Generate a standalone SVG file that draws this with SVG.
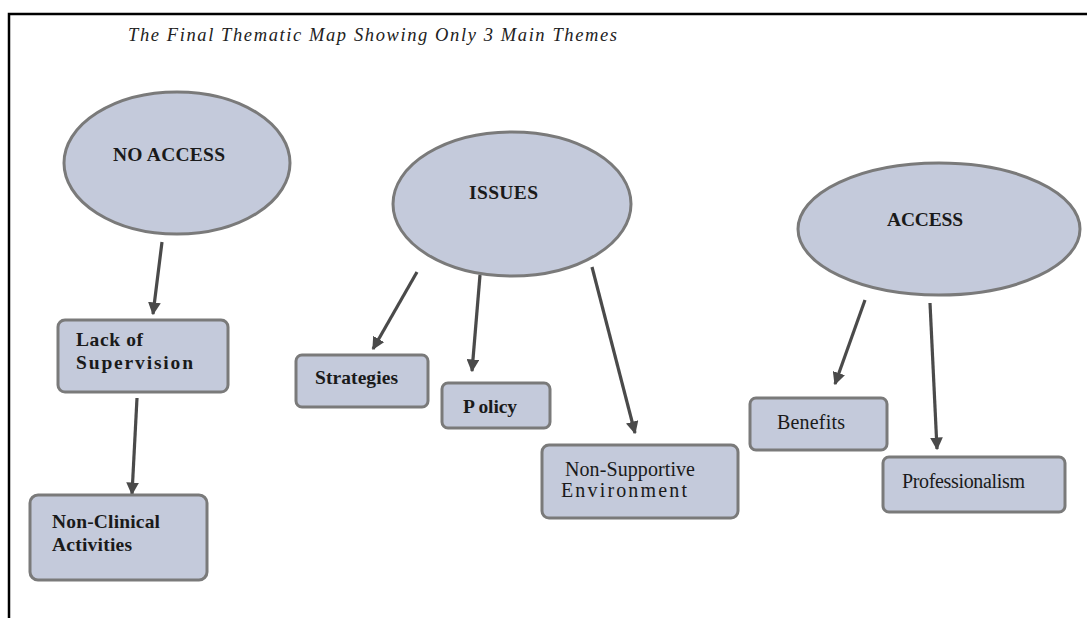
<svg xmlns="http://www.w3.org/2000/svg" width="1087" height="618" viewBox="0 0 1087 618">
<defs>
<marker id="ah" viewBox="0 0 10 10" refX="9" refY="5" markerWidth="4" markerHeight="4" orient="auto" markerUnits="strokeWidth">
<path d="M0,0 L10,5 L0,10 Z" fill="#4a4a4a"/>
</marker>
<style>
.node{fill:#c4cadb;stroke:#7a7a7a;stroke-width:3}
.b{font-family:"Liberation Serif","Times New Roman",serif;font-weight:bold;font-size:19.5px;fill:#1a1a1a}
.r{font-family:"Liberation Serif","Times New Roman",serif;font-size:20px;fill:#1a1a1a}
.title{font-family:"Liberation Serif","Times New Roman",serif;font-style:italic;font-size:18.5px;fill:#222}
.conn line{stroke:#4a4a4a;stroke-width:3.2;marker-end:url(#ah)}
</style>
</defs>
<rect width="1087" height="618" fill="#fff"/>
<path d="M9,618 L9,14 L1087,14" fill="none" stroke="#000" stroke-width="2.5"/>
<text class="title" x="128" y="41" textLength="489" lengthAdjust="spacing">The Final Thematic Map Showing Only 3 Main Themes</text>

<g id="connectors" class="conn">
<line x1="162" y1="242" x2="153" y2="314"/>
<line x1="137" y1="398" x2="132" y2="494"/>
<line x1="417" y1="272" x2="373" y2="349"/>
<line x1="480" y1="275" x2="472" y2="371"/>
<line x1="592" y1="267" x2="635" y2="433"/>
<line x1="865" y1="300" x2="835" y2="384"/>
<line x1="930" y1="303" x2="937" y2="449"/>
</g>

<g id="no-access">
<ellipse class="node" cx="177" cy="163" rx="113" ry="71"/>
<text class="b" x="113" y="161" textLength="112" lengthAdjust="spacing">NO ACCESS</text>
</g>
<g id="issues">
<ellipse class="node" cx="512" cy="204" rx="119" ry="72"/>
<text class="b" x="469" y="199" textLength="69" lengthAdjust="spacing">ISSUES</text>
</g>
<g id="access">
<ellipse class="node" cx="939" cy="229" rx="141" ry="66"/>
<text class="b" x="887" y="226" textLength="76" lengthAdjust="spacing">ACCESS</text>
</g>

<g id="lack-of-supervision">
<rect class="node" x="58" y="320" width="170" height="72" rx="7"/>
<text class="b" x="76" y="346" textLength="67" lengthAdjust="spacing">Lack of</text>
<text class="b" x="76" y="369" textLength="117" lengthAdjust="spacing">Supervision</text>
</g>
<g id="non-clinical">
<rect class="node" x="30" y="495" width="177" height="85" rx="8"/>
<text class="b" x="52" y="528" textLength="108" lengthAdjust="spacing">Non-Clinical</text>
<text class="b" x="52" y="551" textLength="80" lengthAdjust="spacing">Activities</text>
</g>
<g id="strategies">
<rect class="node" x="296" y="355" width="132" height="52" rx="6"/>
<text class="b" x="315" y="384" textLength="83" lengthAdjust="spacing">Strategies</text>
</g>
<g id="policy">
<rect class="node" x="442" y="383" width="108" height="45" rx="6"/>
<text class="b" x="463" y="413" textLength="54" lengthAdjust="spacing">P olicy</text>
</g>
<g id="non-supportive">
<rect class="node" x="542" y="445" width="196" height="73" rx="7"/>
<text class="r" x="565" y="476" textLength="130" lengthAdjust="spacing">Non-Supportive</text>
<text class="r" x="561" y="497" textLength="126" lengthAdjust="spacing">Environment</text>
</g>
<g id="benefits">
<rect class="node" x="750" y="398" width="137" height="52" rx="6"/>
<text class="r" x="777" y="429" textLength="68" lengthAdjust="spacing">Benefits</text>
</g>
<g id="professionalism">
<rect class="node" x="883" y="457" width="182" height="55" rx="6"/>
<text class="r" x="902" y="488" textLength="123" lengthAdjust="spacing">Professionalism</text>
</g>
</svg>
